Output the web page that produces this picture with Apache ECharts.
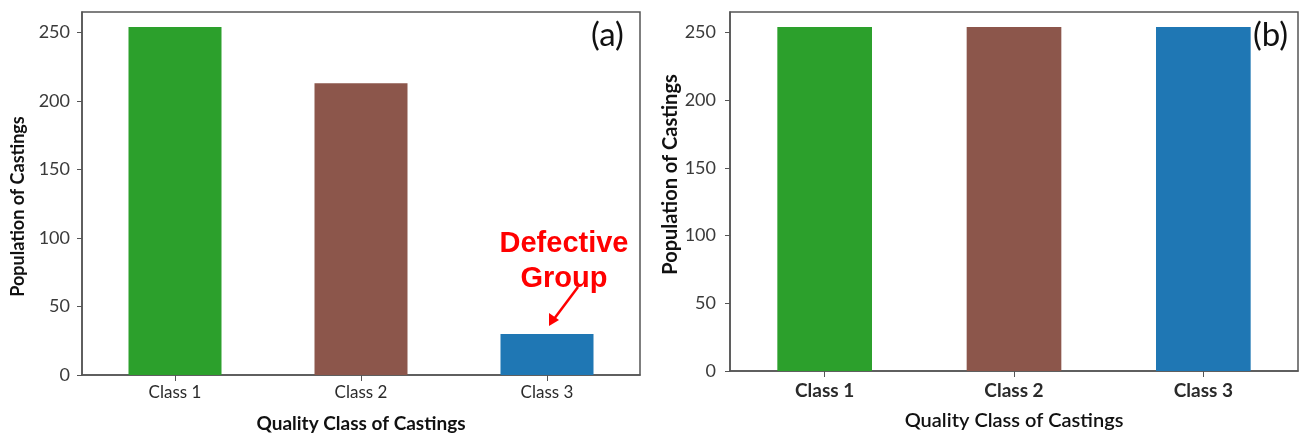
<!DOCTYPE html>
<html><head><meta charset="utf-8">
<script src="https://cdn.jsdelivr.net/npm/echarts@6/dist/echarts.min.js"></script>
<style>html,body{margin:0;padding:0;background:#fff}#c{width:1299px;height:434px}</style>
</head><body><div id="c"></div>
<script>
const categories = ['Class 1', 'Class 2', 'Class 3'];
const valuesA = [254, 213, 30];
const valuesB = [254, 254, 254];
const barColors = ['#2ca02c', '#8c564b', '#1f77b4'];
const yTicks = [0, 50, 100, 150, 200, 250];
const yMax = 265;
const FONT = 'Lato, "Open Sans", sans-serif';

const chart = echarts.init(document.getElementById('c'), null, {renderer: 'canvas'});

function yAxis(gi, nameSize, nameWeight, nameGap, namePad, labelSize, labelMargin) {
  return {
    type: 'value', gridIndex: gi, min: 0, max: yMax, interval: 50,
    name: 'Population of Castings', nameLocation: 'middle', nameGap: nameGap,
    nameTextStyle: {fontFamily: FONT, fontWeight: nameWeight, fontSize: nameSize, color: '#111', padding: namePad},
    axisLine: {show: true, lineStyle: {color: '#555', width: 1.5}},
    axisTick: {show: true, length: 5, customValues: yTicks, lineStyle: {color: '#555'}},
    axisLabel: {customValues: yTicks, fontFamily: FONT, fontSize: labelSize, color: '#3a3a3a', margin: labelMargin},
    splitLine: {show: false}
  };
}
function xAxis(gi, nameSize, nameWeight, labelSize, labelWeight, nameGap, labelMargin) {
  return {
    type: 'category', gridIndex: gi, data: categories,
    name: 'Quality Class of Castings', nameLocation: 'middle', nameGap: nameGap,
    nameTextStyle: {fontFamily: FONT, fontWeight: nameWeight, fontSize: nameSize, color: '#111'},
    axisLine: {show: true, lineStyle: {color: '#555', width: 1.5}},
    axisTick: {show: true, alignWithLabel: true, length: 6, lineStyle: {color: '#555'}},
    axisLabel: {fontFamily: FONT, fontSize: labelSize, fontWeight: labelWeight, color: '#2a2a2a', margin: labelMargin}
  };
}
function barData(vals) {
  return vals.map((v, i) => ({value: v, itemStyle: {color: barColors[i]}}));
}

chart.setOption({
  animation: false,
  grid: [
    {left: 82, top: 12, width: 558, height: 363, outerBoundsMode: 'none', containLabel: false, show: true, borderColor: '#555', borderWidth: 1.5, backgroundColor: 'transparent'},
    {left: 730, top: 12, width: 568, height: 359, outerBoundsMode: 'none', containLabel: false, show: true, borderColor: '#555', borderWidth: 1.5, backgroundColor: 'transparent'}
  ],
  xAxis: [xAxis(0, 19, 'bold', 17, 'normal', 39, 9), xAxis(1, 20, 600, 19, 'bold', 40, 10)],
  yAxis: [yAxis(0, 18, 'bold', 55, [0, 26, 0, 0], 18, 12), yAxis(1, 20, 'bold', 46, [0, 0, 0, 34], 18, 14)],
  series: [
    {type: 'bar', xAxisIndex: 0, yAxisIndex: 0, data: barData(valuesA), barWidth: '50%'},
    {type: 'bar', xAxisIndex: 1, yAxisIndex: 1, data: barData(valuesB), barWidth: '50%'}
  ],
  graphic: [
    {type: 'text', left: 591, top: 19, style: {text: '(a)', fontFamily: FONT, fontSize: 33, fill: '#111'}},
    {type: 'text', left: 1253, top: 19, style: {text: '(b)', fontFamily: FONT, fontSize: 33, fill: '#111'}},
    {type: 'text', x: 564, y: 226, style: {text: 'Defective\nGroup', fontFamily: '"Liberation Sans", Arial, sans-serif', fontWeight: 'bold', fontSize: 29, lineHeight: 35, fill: '#ff0000', align: 'center', verticalAlign: 'top'}},
    {type: 'line', shape: {x1: 578, y1: 287, x2: 554, y2: 319}, style: {stroke: '#ff0000', lineWidth: 2.5}},
    {type: 'polygon', shape: {points: [[549, 326], [549, 313], [559, 320]]}, style: {fill: '#ff0000'}}
  ]
});
</script></body></html>
